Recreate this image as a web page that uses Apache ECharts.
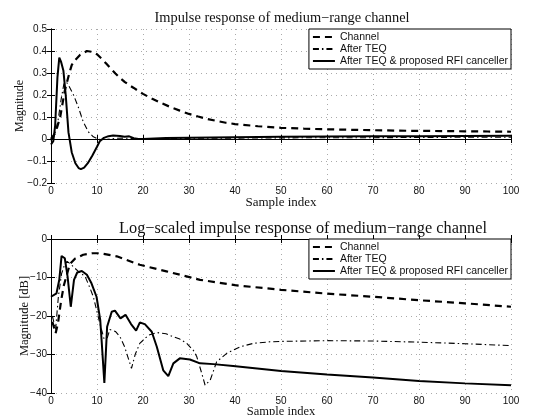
<!DOCTYPE html>
<html><head><meta charset="utf-8">
<script src="https://cdn.jsdelivr.net/npm/echarts@6/dist/echarts.min.js"></script>
<style>html,body{margin:0;padding:0;background:#fff}#c{width:533px;height:415px}</style>
</head><body><div id="c"></div>
<script>
const seriesNames = ['Channel', 'After TEQ', 'After TEQ & proposed RFI canceller'];
const titles = ['Impulse response of medium\u2212range channel', 'Log\u2212scaled impulse response of medium\u2212range channel'];
const xName = 'Sample index';
const yNames = ['Magnitude', 'Magnitude [dB]'];

// Linear plot
const linChX = [0,1,2,3,4,4.5,5.3,6.3,7.8,9,10,11,12,13,14,15,16,17,18,19,20,22,24,26,28,30,32,34,36,38,40,45,50,55,60,65,70,75,80,85,90,95,100];
const linChY = [0,0.03,0.1,0.22,0.3,0.336,0.36,0.382,0.4,0.396,0.385,0.365,0.343,0.32,0.298,0.278,0.26,0.245,0.232,0.218,0.205,0.183,0.163,0.145,0.129,0.114,0.102,0.091,0.082,0.074,0.068,0.058,0.051,0.047,0.044,0.042,0.040,0.038,0.037,0.036,0.035,0.034,0.033];
const linTeqX = [0,0.8,1.5,2.2,2.8,3.3,3.8,4.9,5.9,7,8.1,9.2,10.3,11,12,13,14,16,18,20,30,40,50,60,70,80,90,100];
const linTeqY = [-0.01,0.02,0.08,0.18,0.25,0.26,0.245,0.2,0.147,0.079,0.033,0.01,0.0,-0.003,-0.002,0.0,0.003,0.004,0.002,0.002,0.003,0.004,0.005,0.006,0.006,0.007,0.008,0.008];
const linRfiX = [0,0.5,0.9,1.4,1.8,2.2,2.7,3.2,3.8,4.5,5.3,6,6.5,7.2,8,9,10,10.6,11.5,12.5,13.5,15,16,17,18,19,20,25,30,40,50,60,70,80,90,100];
const linRfiY = [-0.025,-0.01,0.06,0.28,0.37,0.35,0.31,0.2,0.03,-0.06,-0.11,-0.132,-0.137,-0.13,-0.11,-0.075,-0.035,-0.01,0.005,0.013,0.016,0.014,0.01,0.012,0.004,0.0,0.0,0.004,0.006,0.008,0.01,0.011,0.012,0.013,0.014,0.015];

// dB plot
const dbChX = [0.3,1.0,1.5,2.2,2.8,3.4,4.1,5.2,7,9,10.6,14.3,19.3,25.1,32.4,40,50,60,70,80,90,100];
const dbChY = [-21.5,-24.5,-22,-16,-12,-9.5,-6.5,-5.1,-4.1,-3.7,-3.7,-4.5,-6.7,-8.4,-10.6,-12,-13.2,-14.2,-15,-15.9,-16.7,-17.6];
const dbTeqX = [0.3,1.0,1.6,2.3,3.0,3.5,4.5,6,7.4,8.5,9.2,9.9,10.7,11.5,12.2,12.8,14,15,16,16.7,17.5,18.3,19.3,21.2,23,25,26.6,28,29.5,31,31.7,32.8,33.5,34.6,36,38.2,41.1,44,47.6,50,60,70,80,90,100];
const dbTeqY = [-20,-23.5,-15,-9,-6.5,-5.8,-6.8,-8.5,-9.7,-12.8,-15,-18.4,-22.3,-25.8,-25.8,-23.5,-24,-25.4,-28,-30.6,-33.6,-30,-27.1,-25,-24.3,-24.6,-25.4,-26,-27.1,-29,-30.6,-35,-38,-36.7,-31.9,-29.7,-28,-27.1,-26.7,-26.6,-26.4,-26.5,-26.8,-27.2,-27.7];
const dbRfiX = [0,1.2,1.8,2.3,3.0,3.6,4.3,5.0,5.7,6.7,7.8,8.8,9.9,10.7,11.0,11.6,12.2,13.2,13.9,15.1,16.2,17.4,18.5,19.3,20.4,21.9,23.0,24.4,25.5,26.6,28.0,30.2,32.4,35.3,39.6,46.9,50,60,70,80,90,100];
const dbRfiY = [-15,-14.1,-10.6,-4.4,-5,-9.7,-17.6,-10.6,-8.7,-8.3,-9.3,-11.5,-15,-21,-26.3,-37.4,-22.8,-18.9,-18.6,-20.6,-19.7,-22.1,-23.8,-21.7,-22.1,-24.1,-28,-34.1,-35.6,-32.3,-31,-31.3,-32.3,-32.5,-33,-33.9,-34.3,-35.2,-36,-36.9,-37.5,-38];

const pairs = (xs, ys) => xs.map((x, i) => [x, ys[i]]);
const serif = 'Liberation Serif';
const sans = 'Liberation Sans';
const fmt = v => String(Math.round(v * 10) / 10).replace('-', '\u2212');

const styles = [
  { color: '#000', width: 2.2, type: [7, 5] },
  { color: '#000', width: 1.1, type: [6, 3, 1.5, 3] },
  { color: '#000', width: 2, type: 'solid' }
];

function xMain(g, gap, nsize) {
  return { gridIndex: g, type: 'value', min: 0, max: 100, interval: 10, position: 'bottom',
    axisLine: { show: true, lineStyle: { color: '#000', width: 1 } },
    axisTick: { show: true, inside: true, length: 4, lineStyle: { color: '#000' } },
    axisLabel: { margin: 3, fontFamily: sans, fontSize: 10, color: '#111', formatter: fmt, showMinLabel: true, showMaxLabel: true },
    splitLine: { show: true, lineStyle: { color: '#aaa', type: [1, 4], width: 1 } },
    name: xName, nameLocation: 'middle', nameGap: gap, nameMoveOverlap: false,
    nameTextStyle: { fontFamily: serif, fontSize: nsize, color: '#111', verticalAlign: 'top' } };
}
function xMirror(g) {
  return { gridIndex: g, type: 'value', min: 0, max: 100, interval: 10, position: 'top',
    axisLine: { show: true, lineStyle: { color: '#000', width: 1 } },
    axisTick: { show: true, inside: true, length: 4, lineStyle: { color: '#000' } },
    axisLabel: { show: false }, splitLine: { show: false } };
}
function yMain(g, mn, mx, iv, name, gap, nsize) {
  return { gridIndex: g, type: 'value', min: mn, max: mx, interval: iv, position: 'left',
    axisLine: { show: true, lineStyle: { color: '#000', width: 1 } },
    axisTick: { show: true, inside: true, length: 4, lineStyle: { color: '#000' } },
    axisLabel: { margin: 4, fontFamily: sans, fontSize: 10, color: '#111', formatter: fmt, showMinLabel: true, showMaxLabel: true },
    splitLine: { show: true, lineStyle: { color: '#aaa', type: [1, 4], width: 1 } },
    name: name, nameLocation: 'middle', nameGap: gap, nameMoveOverlap: false,
    nameTextStyle: { fontFamily: serif, fontSize: nsize, color: '#111' } };
}
function yMirror(g, mn, mx, iv) {
  return { gridIndex: g, type: 'value', min: mn, max: mx, interval: iv, position: 'right',
    axisLine: { show: true, lineStyle: { color: '#000', width: 1 } },
    axisTick: { show: true, inside: true, length: 4, lineStyle: { color: '#000' } },
    axisLabel: { show: false }, splitLine: { show: false } };
}
function mkSeries(i, xi, yi, data) {
  return { name: seriesNames[i], type: 'line', xAxisIndex: xi, yAxisIndex: yi, data: data,
    symbol: 'none', showSymbol: false, smooth: false, lineStyle: styles[i], itemStyle: { color: '#000' },
    z: 3 - i, animation: false };
}
function mkLegend(top) {
  return { data: seriesNames, orient: 'vertical', right: 22, top: top,
    itemWidth: 22, itemHeight: 8, itemGap: 0, padding: [2, 3, 2, 3],
    backgroundColor: '#fff', borderColor: '#000', borderWidth: 1, z: 10,
    selectedMode: false,
    itemStyle: { opacity: 0, borderWidth: 0 },
    textStyle: { fontFamily: sans, fontSize: 10.5, color: '#111', lineHeight: 12 } };
}

const chart = echarts.init(document.getElementById('c'), null, { renderer: 'canvas' });
chart.setOption({
  animation: false,
  backgroundColor: '#fff',
  title: [
    { text: titles[0], left: 277, textAlign: 'center', top: 6,
      textStyle: { fontFamily: serif, fontSize: 14.4, fontWeight: 'normal', color: '#111' } },
    { text: titles[1], left: 298, textAlign: 'center', top: 216,
      textStyle: { fontFamily: serif, fontSize: 16.3, fontWeight: 'normal', color: '#111' } }
  ],
  legend: [mkLegend(29), mkLegend(239)],
  grid: [
    { left: 51, top: 29, width: 460, height: 154, outerBoundsMode: 'none', containLabel: false },
    { left: 51, top: 239, width: 460, height: 154, outerBoundsMode: 'none', containLabel: false }
  ],
  xAxis: [xMain(0, 13, 13), xMirror(0), xMain(1, 12.5, 12.5), xMirror(1)],
  yAxis: [yMain(0, -0.2, 0.5, 0.1, yNames[0], 25, 12), yMirror(0, -0.2, 0.5, 0.1),
          yMain(1, -40, 0, 10, yNames[1], 20, 12.5), yMirror(1, -40, 0, 10)],
  series: [
    mkSeries(0, 0, 0, pairs(linChX, linChY)),
    mkSeries(1, 0, 0, pairs(linTeqX, linTeqY)),
    mkSeries(2, 0, 0, pairs(linRfiX, linRfiY)),
    mkSeries(0, 2, 2, pairs(dbChX, dbChY)),
    mkSeries(1, 2, 2, pairs(dbTeqX, dbTeqY)),
    mkSeries(2, 2, 2, pairs(dbRfiX, dbRfiY))
  ]
});
</script></body></html>
